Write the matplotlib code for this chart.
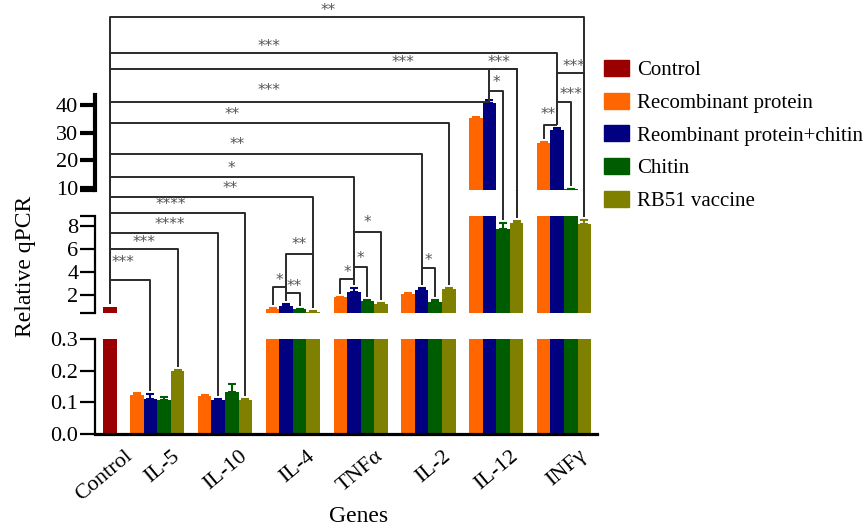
import matplotlib
matplotlib.use('Agg')
import matplotlib.pyplot as plt
from matplotlib.patches import Patch
from matplotlib.transforms import ScaledTranslation

plt.rcParams['font.family'] = ['Liberation Serif', 'DejaVu Serif']

# ---------------- data ----------------
genes = ['IL-5', 'IL-10', 'IL-4', 'TNFα', 'IL-2', 'IL-12', 'INFγ']
series_names = ['Recombinant protein', 'Reombinant protein+chitin', 'Chitin', 'RB51 vaccine']
control_label = 'Control'
control_value = 1.0

recombinant = [0.123, 0.120, 0.78, 1.80, 2.06, 35.3, 26.2]
recombinant_err = [0.008, 0.002, 0.05, 0.05, 0.08, 0.5, 0.5]
rec_chitin = [0.111, 0.108, 1.04, 2.29, 2.40, 40.7, 31.0]
rec_chitin_err = [0.015, 0.002, 0.15, 0.30, 0.20, 1.0, 0.5]
chitin = [0.106, 0.133, 0.75, 1.50, 1.42, 7.7, 9.7]
chitin_err = [0.010, 0.025, 0.05, 0.10, 0.15, 0.6, 0.1]
rb51 = [0.199, 0.108, 0.55, 1.22, 2.52, 8.3, 8.2]
rb51_err = [0.002, 0.003, 0.03, 0.10, 0.10, 0.15, 0.3]

values = [recombinant, rec_chitin, chitin, rb51]
errors = [recombinant_err, rec_chitin_err, chitin_err, rb51_err]

control_color = '#9b0000'
series_colors = ['#ff6600', '#000080', '#005c00', '#808000']

# axis segments (broken y axis)
bot_lim = (0.0, 0.3)
bot_ticks = [0.0, 0.1, 0.2, 0.3]
bot_ticklabels = ['0.0', '0.1', '0.2', '0.3']
mid_lim = (0.435, 8.87)
mid_ticks = [2, 4, 6, 8]
top_lim = (9.28, 43.6)
top_ticks = [10, 20, 30, 40]

# significance brackets: (left bar, right bar, level px from top, label, label pos t, label dy)
C = 'Control'
brackets = [
    (C, ('INFγ', 3), 17, '**', 0.46, 6),
    (C, ('INFγ', 1), 53, '***', 0.355, 6),
    (C, ('IL-12', 3), 69, '***', 0.72, 7),
    (C, ('IL-12', 1), 102, '***', 0.42, 11),
    (C, ('IL-2', 3), 123, '**', 0.36, 8),
    (C, ('IL-2', 1), 154, '**', 0.41, 10),
    (C, ('TNFα', 1), 177, '*', 0.5, 8),
    (C, ('IL-4', 3), 197, '**', 0.59, 9),
    (C, ('IL-10', 3), 213, '****', 0.45, 8),
    (C, ('IL-10', 1), 233, '****', 0.55, 8),
    (C, ('IL-5', 3), 249, '***', 0.5, 7),
    (C, ('IL-5', 1), 280, '***', 0.33, 17),
    (('IL-12', 1), ('IL-12', 3), 69, '***', 0.35, 7),
    (('IL-12', 1), ('IL-12', 2), 91, '*', 0.5, 8),
    (('INFγ', 0), ('INFγ', 1), 125, '**', 0.3, 10),
    (('INFγ', 1), ('INFγ', 2), 102, '***', 1.0, 8),
    (('INFγ', 1), ('INFγ', 3), 73, '***', 0.6, 6),
    (('IL-4', 0), ('IL-4', 1), 287, '*', 0.5, 7),
    (('IL-4', 1), ('IL-4', 2), 293, '**', 0.6, 7),
    (('IL-4', 1), ('IL-4', 3), 254, '**', 0.5, 9),
    (('TNFα', 0), ('TNFα', 1), 279, '*', 0.5, 6),
    (('TNFα', 1), ('TNFα', 2), 267, '*', 0.5, 9),
    (('TNFα', 1), ('TNFα', 3), 232, '*', 0.5, 10),
    (('IL-2', 1), ('IL-2', 2), 268, '*', 0.5, 8),
]

# ---------------- figure ----------------
W, H = 866, 529
fig = plt.figure(figsize=(W / 100, H / 100), dpi=100)

def frac_box(x0, ytop, x1, ybot):
    return [x0 / W, 1 - ybot / H, (x1 - x0) / W, (ybot - ytop) / H]

ax_bot = fig.add_axes(frac_box(95, 339, 597, 434))
ax_mid = fig.add_axes(frac_box(95, 216, 597, 313))
ax_top = fig.add_axes(frac_box(95, 95, 597, 190))
axes = [ax_bot, ax_mid, ax_top]

xlim = (-0.59, 36.43)
ctrl_x = 0.5
def bar_x(g, s):
    return 2 + 5 * g + s + 0.5

for ax in axes:
    ax.bar([ctrl_x], [control_value], width=1.0, color=control_color, linewidth=0)
    for s in range(4):
        xs = [bar_x(g, s) for g in range(len(genes))]
        ax.bar(xs, values[s], width=1.0, color=series_colors[s], linewidth=0)
        ax.errorbar(xs, values[s], yerr=[[0] * len(genes), errors[s]], fmt='none',
                    ecolor=series_colors[s], elinewidth=1.5, capsize=3, capthick=1.5)
    ax.set_xlim(*xlim)
    ax.patch.set_alpha(0)
    for sp in ['top', 'right']:
        ax.spines[sp].set_visible(False)

ax_bot.set_ylim(*bot_lim)
ax_mid.set_ylim(*mid_lim)
ax_top.set_ylim(*top_lim)

# bottom segment
ax_bot.set_yticks(bot_ticks)
ax_bot.set_yticklabels(bot_ticklabels)
ax_bot.spines['left'].set_linewidth(1.6)
ax_bot.spines['bottom'].set_linewidth(2.3)
ax_bot.tick_params(axis='y', length=11, width=1.6, labelsize=16, pad=1)
ax_bot.set_xticks([ctrl_x] + [bar_x(g, 1.5) for g in range(len(genes))])
ax_bot.set_xticklabels([control_label] + genes, rotation=40, ha='right',
                       rotation_mode='anchor', fontsize=16)
ax_bot.tick_params(axis='x', length=0, pad=9)
shift = ScaledTranslation(14 / 100, 0, fig.dpi_scale_trans)
for lab in ax_bot.get_xticklabels():
    lab.set_transform(lab.get_transform() + shift)

# middle segment
ax_mid.set_yticks(mid_ticks)
ax_mid.set_yticks(list(mid_lim), minor=True)
ax_mid.spines['left'].set_linewidth(1.6)
ax_mid.spines['bottom'].set_visible(False)
ax_mid.tick_params(axis='y', which='both', length=11, width=1.6, labelsize=16, pad=1)
ax_mid.tick_params(axis='x', bottom=False, labelbottom=False)

# top segment
ax_top.set_yticks(top_ticks)
ax_top.set_yticks([top_lim[0]], minor=True)
ax_top.spines['left'].set_linewidth(3.0)
ax_top.spines['bottom'].set_visible(False)
ax_top.tick_params(axis='y', which='both', length=11, width=3.0, labelsize=16, pad=1)
ax_top.tick_params(axis='x', bottom=False, labelbottom=False)

# ---------------- brackets ----------------
ov = fig.add_axes([0, 0, 1, 1], zorder=5)
ov.set_xlim(0, W)
ov.set_ylim(H, 0)
ov.axis('off')
ov.patch.set_alpha(0)

def bar_info(key):
    if key == C:
        return ctrl_x, control_value
    g = genes.index(key[0])
    s = key[1]
    return bar_x(g, s), values[s][g] + errors[s][g]

def to_px(ax, x, y):
    dx, dy = ax.transData.transform((x, y))
    return dx * 100 / fig.dpi, H - dy * 100 / fig.dpi

def top_px(key):
    x, v = bar_info(key)
    for ax, (lo, hi) in [(ax_top, top_lim), (ax_mid, mid_lim), (ax_bot, bot_lim)]:
        if v > lo:
            return to_px(ax, x, min(v, hi))

line_kw = dict(color='#2b2b2b', lw=1.4, solid_capstyle='butt', zorder=6)
for left, right, lvl, lab, t, dy in brackets:
    xl, yl = top_px(left)
    xr, yr = top_px(right)
    ov.plot([xl, xl, xr, xr], [yl - 3, lvl, lvl, yr - 3], **line_kw)
    ov.text(xl + t * (xr - xl), lvl - dy, lab, ha='center', va='center',
            fontsize=11, color='#555555', family='DejaVu Sans', zorder=7)

# ---------------- labels & legend ----------------
fig.text(25 / W, 1 - 266 / H, 'Relative qPCR', rotation=90, ha='center', va='center', fontsize=17)
fig.text(359 / W, 1 - 517 / H, 'Genes', ha='center', va='center', fontsize=17)

handles = [Patch(color=control_color)] + [Patch(color=c) for c in series_colors]
labels = [control_label] + series_names
fig.legend(handles, labels, loc='upper left', bbox_to_anchor=(604 / W, 1 - 60 / H),
           frameon=False, fontsize=15, handlelength=1.2, handleheight=0.8,
           handletextpad=0.4, labelspacing=0.6, borderpad=0, borderaxespad=0)

fig.savefig('out.png', dpi=100)
